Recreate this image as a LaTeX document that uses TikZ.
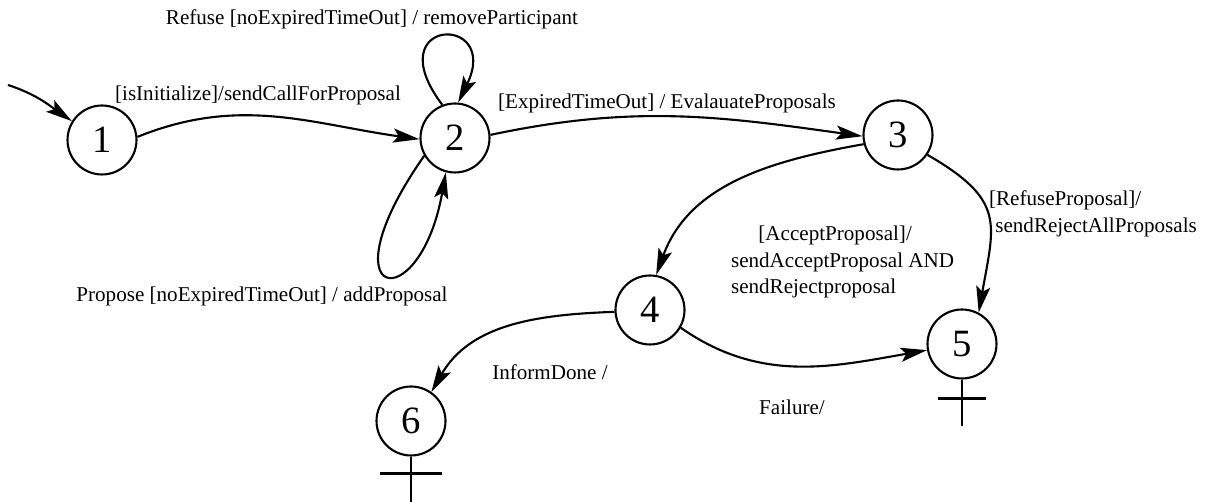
\documentclass[tikz,border=0pt]{standalone}
\usepackage{fontspec}
\setmainfont{Liberation Serif}
\usepackage{tikz}
\usetikzlibrary{arrows.meta, positioning}

\begin{document}
\begin{tikzpicture}[x=0.02cm, y=0.02cm, line width=1.2pt,
					>={Stealth[length=15pt, width=8pt, inset=3pt]},
					state/.style={circle, draw, minimum size=1.38cm, inner sep=0pt, font=\fontsize{22}{26}\selectfont},
					guard/.style={inner sep=0pt, font=\fontsize{12}{15.3}\selectfont},
					trans/.style={->}
				]
					\useasboundingbox (0,0) rectangle (1214,502);

					% States
					\node[state] (s1) at (102,362) {1};
					\node[state] (s2) at (455,364) {2};
					\node[state] (s3) at (898,367) {3};
					\node[state] (s4) at (650,192) {4};
					\node[state] (s5) at (962,158) {5};
					\node[state] (s6) at (411,81) {6};
					\coordinate (init) at (8,417);

					% Guards
					\node[guard] (lref) at (372,483) {Refuse [noExpiredTimeOut] / removeParticipant};
					\node[guard] (linit) at (258,407) {[isInitialize]/sendCallForProposal};
					\node[guard] (lexp) at (667,399) {[ExpiredTimeOut] / EvalauateProposals};
					\node[guard, align=left, anchor=west] (lrej) at (988,288) {[RefuseProposal]/\\\hspace*{0.3em}sendRejectAllProposals};
					\node[guard, align=left, anchor=west] (lacc) at (730,240) {\hspace*{1.3em}[AcceptProposal]/\\sendAcceptProposal AND\\sendRejectproposal};
					\node[guard] (lprop) at (262,206) {Propose [noExpiredTimeOut] / addProposal};
					\node[guard] (linf) at (550,130) {InformDone /};
					\node[guard] (lfail) at (792,95) {Failure/};

					% Transitions
					\draw[trans] (init) to[out=-18, in=145] (s1.148);
					\draw[trans] (s1.5) to[out=22, in=172] (s2.182);
					\draw[trans] (s2.111) to[out=127, in=64, out distance=2.2cm, in distance=2cm] (s2.85);
					\draw[trans] (s2.210) to[out=235, in=260, out distance=3.6cm, in distance=3cm] (s2.255);
					\draw[trans] (s2.5) to[out=12, in=172] (s3.182);
					\draw[trans] (s3.195) to[out=190, in=70] (s4.80);
					\draw[trans] (s3.-34) to[out=-30, in=80, looseness=1.4] (s5.62);
					\draw[trans] (s4.-30) to[out=-35, in=190] (s5.190);
					\draw[trans] (s4.183) to[out=182, in=60] (s6.55);

					% Final marks
					\draw (s5.south) -- ++(0,-46) (s5.south) ++(-24,-19) -- ++(48,0);
					\draw (s6.south) -- ++(0,-46) (s6.south) ++(-31,-17) -- ++(62,0);
				\end{tikzpicture}
\end{document}
